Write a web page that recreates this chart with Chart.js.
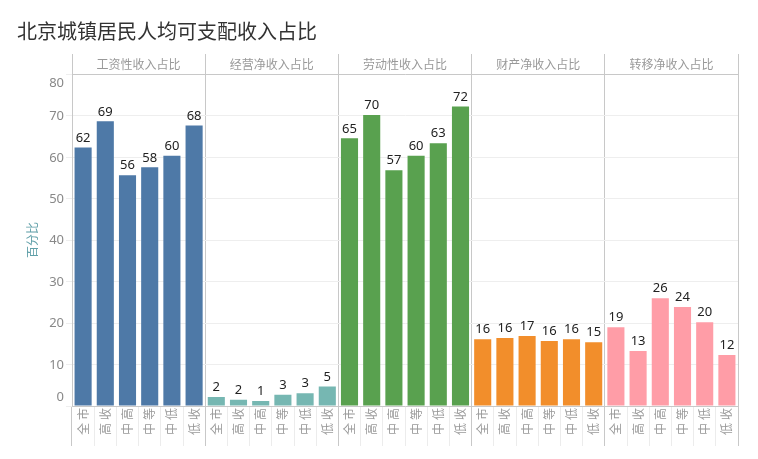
<!DOCTYPE html>
<html>
<head>
<meta charset="utf-8">
<script src="https://cdn.jsdelivr.net/npm/chart.js@4/dist/chart.umd.min.js"></script>
<style>
  html, body { margin: 0; padding: 0; background: #fff; }
  #wrap { width: 758px; height: 459px; }
</style>
</head>
<body>
<div id="wrap"><canvas id="incomeChart"></canvas></div>
<script>
// chart data
const chartTitle = "北京城镇居民人均可支配收入占比";
const yTitle = "百分比";
const groups = ["全市", "高收", "中高", "中等", "中低", "低收"];
const panelNames = ["工资性收入占比", "经营净收入占比", "劳动性收入占比", "财产净收入占比", "转移净收入占比"];
const wageShare = [62.4, 68.7, 55.7, 57.6, 60.4, 67.7];
const businessShare = [2.2, 1.5, 1.2, 2.7, 3.1, 4.7];
const laborShare = [64.6, 70.2, 56.9, 60.4, 63.4, 72.3];
const propertyShare = [16.1, 16.4, 16.9, 15.7, 16.1, 15.4];
const transferShare = [19.0, 13.3, 26.0, 23.9, 20.2, 12.3];
const yTicks = [0, 10, 20, 30, 40, 50, 60, 70, 80];

const panelColors = ["#4e79a7", "#76b7b2", "#59a14f", "#f28e2b", "#ff9da7"];
const panelData = [wageShare, businessShare, laborShare, propertyShare, transferShare];

// flatten the small multiples into one category axis
const labels = [];
const values = [];
const colors = [];
panelData.forEach((arr, p) => {
  arr.forEach((v, i) => {
    labels.push(groups[i]);
    values.push(v);
    colors.push(panelColors[p]);
  });
});

const cjk = '"Noto Sans CJK SC", "Noto Sans", sans-serif';

// spaced-out characters on the category labels (tableau look)
const spacingPlugin = {
  id: "labelSpacing",
  beforeDraw(chart) { chart.ctx.letterSpacing = "3px"; },
  beforeDatasetsDraw(chart) { chart.ctx.letterSpacing = "0px"; },
};

// text that Chart.js doesn't place where Tableau puts it
const decorPlugin = {
  id: "decor",
  afterDraw(chart) {
    const ctx = chart.ctx;
    const y = chart.scales.y;
    const top = chart.scales.x2;
    ctx.save();
    ctx.letterSpacing = "0px";

    // title
    ctx.font = "20px " + cjk;
    ctx.fillStyle = "#333";
    ctx.textAlign = "left";
    ctx.textBaseline = "middle";
    ctx.fillText(chartTitle, 17, 31);

    // panel headers
    ctx.font = "12px " + cjk;
    ctx.fillStyle = "#999";
    ctx.textAlign = "center";
    panelNames.forEach((name, i) => {
      ctx.fillText(name, top.getPixelForValue(i), 64);
    });

    // y tick labels, edge ones pushed inside like tableau
    ctx.font = '13px "Noto Sans", sans-serif';
    ctx.fillStyle = "#888";
    ctx.textAlign = "right";
    yTicks.forEach((v) => {
      let py = y.getPixelForValue(v);
      if (v === yTicks[0]) py -= 9;
      else if (v === yTicks[yTicks.length - 1]) py += 8;
      ctx.fillText(String(v), 64, py + 0.5);
    });

    // y axis title
    ctx.translate(32, 240);
    ctx.rotate(-Math.PI / 2);
    ctx.font = "12px " + cjk;
    ctx.fillStyle = "#5f9fa8";
    ctx.textAlign = "center";
    ctx.fillText(yTitle, 0, 0);
    ctx.restore();
  },
};

// value labels above bars
const barLabelPlugin = {
  id: "barLabels",
  afterDatasetsDraw(chart) {
    const ctx = chart.ctx;
    const meta = chart.getDatasetMeta(0);
    ctx.save();
    ctx.font = '13px "Noto Sans", sans-serif';
    ctx.fillStyle = "#222";
    ctx.textAlign = "center";
    ctx.textBaseline = "bottom";
    meta.data.forEach((bar, i) => {
      ctx.fillText(String(Math.round(values[i])), bar.x, bar.y - 3);
    });
    ctx.restore();
  },
};

new Chart(document.getElementById("incomeChart"), {
  type: "bar",
  data: {
    labels: labels,
    datasets: [
      {
        data: values,
        backgroundColor: colors,
        borderWidth: 0,
        categoryPercentage: 1,
        barPercentage: 0.77,
      },
    ],
  },
  options: {
    responsive: true,
    maintainAspectRatio: false,
    animation: false,
    layout: { padding: { top: 54, right: 20, bottom: 13, left: 0 } },
    plugins: {
      legend: { display: false },
      tooltip: { enabled: false },
    },
    scales: {
      x: {
        type: "category",
        position: "bottom",
        offset: true,
        grid: {
          offset: true,
          drawOnChartArea: false,
          tickLength: 40,
          color: (c) => (c.index === undefined || c.index % 6 === 0 ? "#c8c8c8" : "#ececec"),
        },
        border: { color: "#c8c8c8" },
        ticks: {
          autoSkip: false,
          minRotation: 90,
          maxRotation: 90,
          padding: -41,
          color: "#999",
          font: { family: cjk, size: 12 },
        },
        afterFit: (s) => { s.height = 40; },
      },
      x2: {
        type: "category",
        position: "top",
        labels: panelNames,
        offset: true,
        grid: {
          offset: true,
          drawOnChartArea: true,
          tickLength: 20.5,
          color: "#c8c8c8",
        },
        border: { color: "#c8c8c8" },
        ticks: { display: false },
        afterFit: (s) => { s.height = 20.5; },
      },
      y: {
        min: 0,
        max: 80,
        ticks: { display: false, stepSize: 10 },
        grid: { color: "#eeeeee", tickLength: 6 },
        border: { color: "#c8c8c8" },
        afterFit: (s) => { s.width = 72; },
      },
    },
  },
  plugins: [spacingPlugin, decorPlugin, barLabelPlugin],
});
</script>
</body>
</html>
